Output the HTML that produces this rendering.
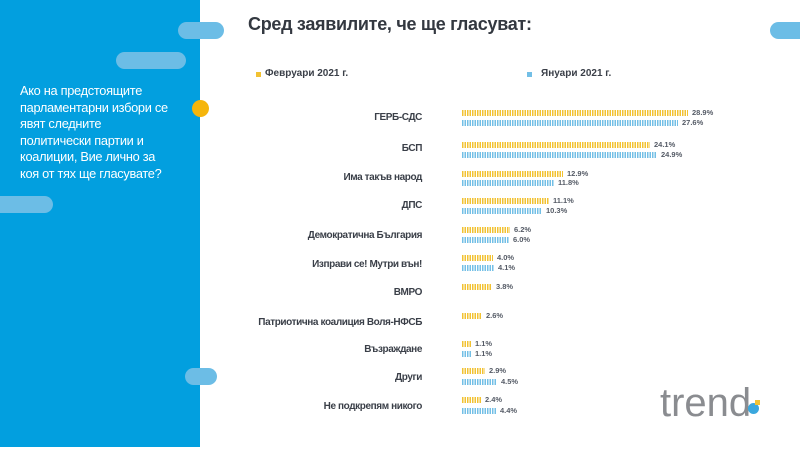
<!DOCTYPE html>
<html><head><meta charset="utf-8"><style>
body{margin:0;width:800px;height:450px;background:#fff;position:relative;overflow:hidden;font-family:"Liberation Sans","DejaVu Sans",sans-serif}
.a{position:absolute}
.pill{position:absolute;background:#6cbde6;border-radius:9px}
.lbl{position:absolute;right:378px;font-size:10px;font-weight:bold;color:#3a3f48;letter-spacing:-0.4px;white-space:nowrap;line-height:10px}
.bf,.bj{position:absolute;left:462px;height:6px}
.bf{background:repeating-linear-gradient(90deg,#f2c232 0 1.5px,#fff 1.5px 2.5px)}
.bj{background:repeating-linear-gradient(90deg,#73bfe6 0 1.5px,#fff 1.5px 2.5px)}
.v{position:absolute;font-size:7.5px;font-weight:bold;color:#555b66;line-height:8px}
</style></head><body>
<div class="a" style="left:0;top:0;width:200px;height:447px;background:#029fdf"></div>
<div class="pill" style="left:178px;top:22px;width:46px;height:17px"></div>
<div class="pill" style="left:116px;top:52px;width:70px;height:17px"></div>
<div class="pill" style="left:-10px;top:196px;width:63px;height:17px"></div>
<div class="pill" style="left:185px;top:368px;width:32px;height:17px"></div>
<div class="pill" style="left:770px;top:22px;width:40px;height:17px"></div>
<div class="a" style="left:192px;top:100px;width:17px;height:17px;border-radius:50%;background:#f5b50c"></div>
<div class="a" style="left:20px;top:83px;width:180px;color:#fff;font-size:12.8px;line-height:16.5px;letter-spacing:-0.3px;white-space:nowrap">Ако на предстоящите<br>парламентарни избори се<br>явят следните<br>политически партии и<br>коалиции, Вие лично за<br>коя от тях ще гласувате?</div>
<div class="a" style="left:248px;top:14px;font-size:18px;font-weight:bold;color:#333840;letter-spacing:-0.3px">Сред заявилите, че ще гласуват:</div>
<div class="a" style="left:256px;top:72px;width:5px;height:5px;background:#f2c232"></div>
<div class="a" style="left:265px;top:68px;font-size:10px;font-weight:bold;color:#3a3f48">Февруари 2021 г.</div>
<div class="a" style="left:527px;top:72px;width:5px;height:5px;background:#73bfe6"></div>
<div class="a" style="left:541px;top:68px;font-size:10px;font-weight:bold;color:#3a3f48">Януари 2021 г.</div>

<div class="lbl" style="top:113px">ГЕРБ-СДС</div>
<div class="bf" style="top:110px;width:226px"></div><div class="v" style="left:692px;top:109px">28.9%</div>
<div class="bj" style="top:120px;width:216px"></div><div class="v" style="left:682px;top:119px">27.6%</div>

<div class="lbl" style="top:144px">БСП</div>
<div class="bf" style="top:142px;width:188px"></div><div class="v" style="left:654px;top:141px">24.1%</div>
<div class="bj" style="top:152px;width:195px"></div><div class="v" style="left:661px;top:151px">24.9%</div>

<div class="lbl" style="top:173px">Има такъв народ</div>
<div class="bf" style="top:171px;width:101px"></div><div class="v" style="left:567px;top:170px">12.9%</div>
<div class="bj" style="top:180px;width:92px"></div><div class="v" style="left:558px;top:179px">11.8%</div>

<div class="lbl" style="top:201px">ДПС</div>
<div class="bf" style="top:198px;width:87px"></div><div class="v" style="left:553px;top:197px">11.1%</div>
<div class="bj" style="top:208px;width:80px"></div><div class="v" style="left:546px;top:207px">10.3%</div>

<div class="lbl" style="top:231px">Демократична България</div>
<div class="bf" style="top:227px;width:48px"></div><div class="v" style="left:514px;top:226px">6.2%</div>
<div class="bj" style="top:237px;width:47px"></div><div class="v" style="left:513px;top:236px">6.0%</div>

<div class="lbl" style="top:260px">Изправи се! Мутри вън!</div>
<div class="bf" style="top:255px;width:31px"></div><div class="v" style="left:497px;top:254px">4.0%</div>
<div class="bj" style="top:265px;width:32px"></div><div class="v" style="left:498px;top:264px">4.1%</div>

<div class="lbl" style="top:288px">ВМРО</div>
<div class="bf" style="top:284px;width:30px"></div><div class="v" style="left:496px;top:283px">3.8%</div>

<div class="lbl" style="top:318px">Патриотична коалиция Воля-НФСБ</div>
<div class="bf" style="top:313px;width:20px"></div><div class="v" style="left:486px;top:312px">2.6%</div>

<div class="lbl" style="top:345px">Възраждане</div>
<div class="bf" style="top:341px;width:9px"></div><div class="v" style="left:475px;top:340px">1.1%</div>
<div class="bj" style="top:351px;width:9px"></div><div class="v" style="left:475px;top:350px">1.1%</div>

<div class="lbl" style="top:373px">Други</div>
<div class="bf" style="top:368px;width:23px"></div><div class="v" style="left:489px;top:367px">2.9%</div>
<div class="bj" style="top:379px;width:35px"></div><div class="v" style="left:501px;top:378px">4.5%</div>

<div class="lbl" style="top:402px">Не подкрепям никого</div>
<div class="bf" style="top:397px;width:19px"></div><div class="v" style="left:485px;top:396px">2.4%</div>
<div class="bj" style="top:408px;width:34px"></div><div class="v" style="left:500px;top:407px">4.4%</div>

<div class="a" style="left:660px;top:381px;font-size:40px;color:#8a8c90;letter-spacing:0px;line-height:44px">trend</div>
<div class="a" style="left:748px;top:403px;width:11px;height:11px;border-radius:50%;background:#3aa7dd"></div>
<div class="a" style="left:755px;top:400px;width:5px;height:5px;background:#f2c232"></div>
</body></html>
